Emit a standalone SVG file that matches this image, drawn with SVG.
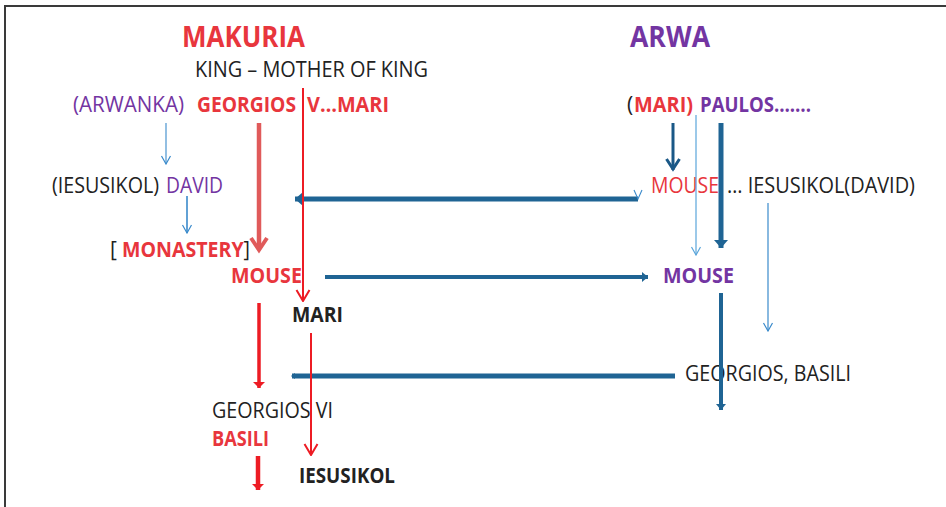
<svg xmlns="http://www.w3.org/2000/svg" width="946" height="507" viewBox="0 0 946 507">
  <style>
    text { font-family: "Open Sans", "Liberation Sans", sans-serif; }
    .t { font-size: 28px; font-weight: bold; }
    .r { font-size: 21px; }
    .b { font-size: 21px; font-weight: bold; }
    .red { fill: #E8363D; }
    .pur { fill: #7335A2; }
    .blk { fill: #222222; }
    .frame { fill: none; stroke: #3a3a3a; stroke-width: 2; }
    .navy { stroke: #1F6494; fill: none; }
    .sky { stroke: #3A8ACB; fill: none; }
    .pale { stroke: #5AA5DA; fill: none; }
    .ln { stroke: #ED1C24; fill: none; }
    .salmon { stroke: #E05A5A; fill: none; }
  </style>
  <defs>
    <!-- open chevron heads, pointing along +x, tip at origin -->
    <marker id="vSky" viewBox="-10 -6 11 12" refX="0" refY="0" markerWidth="11" markerHeight="12" markerUnits="userSpaceOnUse" orient="auto">
      <path d="M-8,-4.5 L0,0 L-8,4.5" fill="none" stroke="#3A8ACB" stroke-width="1.2"/>
    </marker>
    <marker id="vPale" viewBox="-10 -6 11 12" refX="0" refY="0" markerWidth="11" markerHeight="12" markerUnits="userSpaceOnUse" orient="auto">
      <path d="M-8,-4.5 L0,0 L-8,4.5" fill="none" stroke="#5AA5DA" stroke-width="1.2"/>
    </marker>
    <marker id="vRed" viewBox="-13 -8 14 16" refX="0" refY="0" markerWidth="14" markerHeight="16" markerUnits="userSpaceOnUse" orient="auto">
      <path d="M-11,-6.5 L0,0 L-11,6.5" fill="none" stroke="#ED1C24" stroke-width="2"/>
    </marker>
    <marker id="vNavy" viewBox="-13 -9 15 18" refX="0" refY="0" markerWidth="15" markerHeight="18" markerUnits="userSpaceOnUse" orient="auto">
      <path d="M-11,-6.5 L-1,0 L-11,6.5" fill="none" stroke="#1A5887" stroke-width="3"/>
    </marker>
    <!-- filled triangle heads -->
    <marker id="triRed" viewBox="-7 -7 8 14" refX="0" refY="0" markerWidth="8" markerHeight="14" markerUnits="userSpaceOnUse" orient="auto">
      <path d="M-6,-6 L0,0 L-6,6 Z" fill="#ED1C24"/>
    </marker>
    <marker id="triNavy" viewBox="-9 -8 10 16" refX="0" refY="0" markerWidth="10" markerHeight="16" markerUnits="userSpaceOnUse" orient="auto">
      <path d="M-8,-7 L0,0 L-8,7 Z" fill="#1F6494"/>
    </marker>
    <marker id="triNavyS" viewBox="-7 -6 8 12" refX="0" refY="0" markerWidth="8" markerHeight="12" markerUnits="userSpaceOnUse" orient="auto">
      <path d="M-6,-5 L0,0 L-6,5 Z" fill="#1F6494"/>
    </marker>
    <marker id="dotNavy" viewBox="-4 -4 8 8" refX="0" refY="0" markerWidth="8" markerHeight="8" markerUnits="userSpaceOnUse" orient="auto">
      <path d="M-3,-3 L1,0 L-3,3 Z" fill="#1F6494"/>
    </marker>
  </defs>

  <rect width="946" height="507" fill="#ffffff"/>
  <path class="frame" d="M5,507 V6 H946"/>

  <!-- kingdoms -->
  <g id="makuria"><text class="t red" x="182" y="47" textLength="123" lengthAdjust="spacingAndGlyphs">MAKURIA</text></g>
  <g id="arwa"><text class="t pur" x="630" y="47" textLength="80" lengthAdjust="spacingAndGlyphs">ARWA</text></g>

  <g id="king-mother"><text class="r blk" x="195" y="77" textLength="233" lengthAdjust="spacingAndGlyphs">KING – MOTHER OF KING</text></g>

  <g id="arwanka"><text class="r pur" x="73" y="112" textLength="111" lengthAdjust="spacingAndGlyphs">(ARWANKA)</text></g>
  <g id="georgios-v">
    <text class="b red" x="197" y="112" textLength="99" lengthAdjust="spacingAndGlyphs">GEORGIOS</text>
    <text class="b red" x="307" y="112" textLength="82" lengthAdjust="spacingAndGlyphs">V…MARI</text>
  </g>
  <g id="paulos">
    <text class="r blk" x="627" y="112">(</text>
    <text class="b red" x="634" y="112" textLength="59" lengthAdjust="spacingAndGlyphs">MARI)</text>
    <text class="b pur" x="700" y="112" textLength="111" lengthAdjust="spacingAndGlyphs">PAULOS…….</text>
  </g>

  <g id="david">
    <text class="r blk" x="52" y="193" textLength="107" lengthAdjust="spacingAndGlyphs">(IESUSIKOL)</text>
    <text class="r pur" x="166" y="193" textLength="57" lengthAdjust="spacingAndGlyphs">DAVID</text>
  </g>
  <g id="mouse-arwa-1">
    <text class="r red" x="651" y="193" textLength="68" lengthAdjust="spacingAndGlyphs">MOUSE</text>
    <text class="r blk" x="727" y="193" textLength="188" lengthAdjust="spacingAndGlyphs">… IESUSIKOL(DAVID)</text>
  </g>

  <g id="monastery">
    <text class="r blk" x="110" y="257">[</text>
    <text class="b red" x="122" y="257" textLength="128" lengthAdjust="spacingAndGlyphs">MONASTERY<tspan class="blk" font-weight="normal">]</tspan></text>
  </g>
  <g id="mouse-makuria"><text class="b red" x="231" y="283" textLength="71" lengthAdjust="spacingAndGlyphs">MOUSE</text></g>
  <g id="mouse-arwa-2"><text class="b pur" x="663" y="283" textLength="71" lengthAdjust="spacingAndGlyphs">MOUSE</text></g>

  <g id="mari"><text class="b blk" x="292" y="322" textLength="51" lengthAdjust="spacingAndGlyphs">MARI</text></g>
  <g id="georgios-basili"><text class="r blk" x="685" y="381" textLength="166" lengthAdjust="spacingAndGlyphs">GEORGIOS, BASILI</text></g>
  <g id="georgios-vi"><text class="r blk" x="212" y="418" textLength="121" lengthAdjust="spacingAndGlyphs">GEORGIOS VI</text></g>
  <g id="basili"><text class="b red" x="212" y="446" textLength="57" lengthAdjust="spacingAndGlyphs">BASILI</text></g>
  <g id="iesusikol"><text class="b blk" x="299" y="483" textLength="96" lengthAdjust="spacingAndGlyphs">IESUSIKOL</text></g>

  <g id="connectors">
    <!-- Arwa side, dark blue -->
    <path class="navy" stroke-width="5" d="M638,199 H295" marker-end="url(#triNavy)"/>
    <path class="sky" stroke-width="1.1" d="M634,190 L638,199 L642,190"/>
    <path class="navy" stroke-width="4" d="M325,277 H648" marker-end="url(#triNavyS)"/>
    <path class="navy" stroke-width="5" d="M675,376 H292" marker-end="url(#dotNavy)"/>
    <path stroke="#1A5887" stroke-width="3" fill="none" d="M673,123 V170" marker-end="url(#vNavy)"/>
    <path class="pale" stroke-width="1.2" d="M696,115 V255" marker-end="url(#vPale)"/>
    <path class="navy" stroke-width="5" d="M721,123 V248" marker-end="url(#triNavy)"/>
    <path class="navy" stroke-width="4" d="M721,293 V410" marker-end="url(#triNavyS)"/>
    <path class="sky" stroke-width="1.2" d="M768,203 V331" marker-end="url(#vSky)"/>

    <!-- Makuria side, thin blue -->
    <path class="sky" stroke-width="1.1" d="M166,123 V164" marker-end="url(#vSky)"/>
    <path class="sky" stroke-width="1.6" d="M187,196 V233" marker-end="url(#vSky)"/>

    <!-- Makuria side, red -->
    <path class="salmon" stroke-width="4.5" d="M259,123 V248"/>
    <path class="salmon" stroke-width="4" stroke-linejoin="miter" d="M251,238 L259,250 L267,238"/>
    <path class="ln" stroke-width="2" d="M303,88 V301" marker-end="url(#vRed)"/>
    <path class="ln" stroke-width="3.5" d="M259,303 V388" marker-end="url(#triRed)"/>
    <path class="ln" stroke-width="2" d="M311,333 V455" marker-end="url(#vRed)"/>
    <path class="ln" stroke-width="4.5" d="M258,456 V490" marker-end="url(#triRed)"/>
  </g>
</svg>
